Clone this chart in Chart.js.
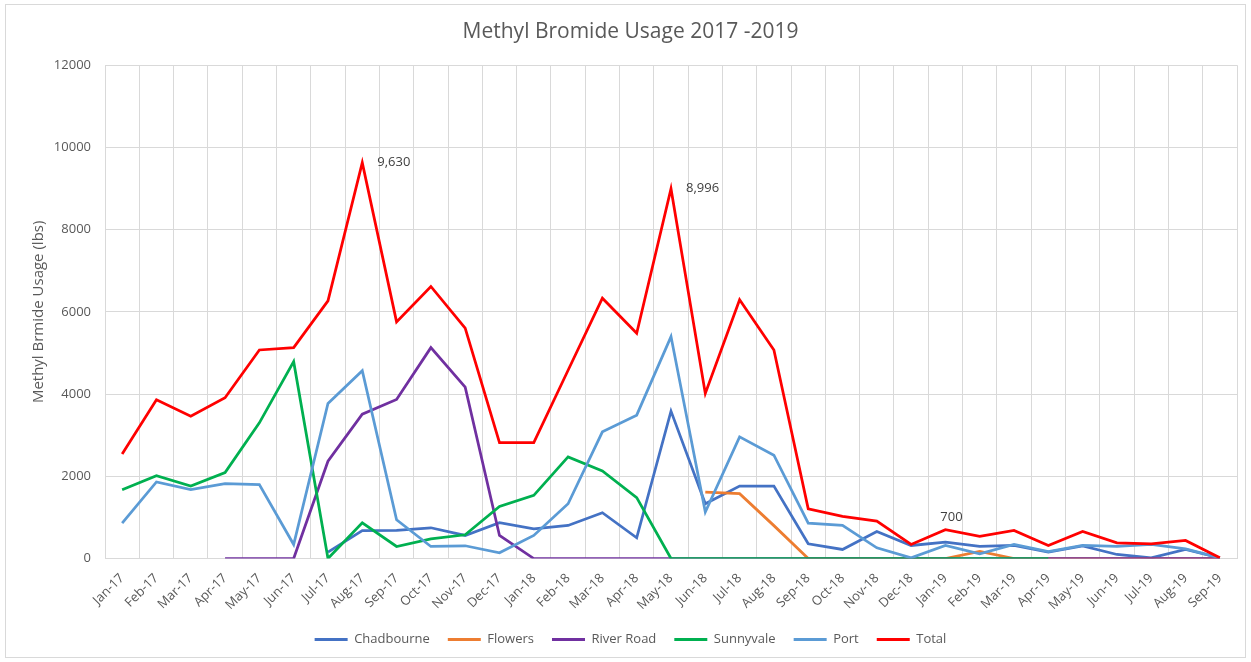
<!DOCTYPE html>
<html>
<head>
<meta charset="utf-8">
<script src="https://cdn.jsdelivr.net/npm/chart.js@4/dist/chart.umd.min.js"></script>
<style>
  html, body { margin: 0; padding: 0; background: #ffffff; }
  #wrap { position: relative; width: 1251px; height: 662px; }
</style>
</head>
<body>
<div id="wrap"><canvas id="c" width="1251" height="662"></canvas></div>
<script>
const categories = ['Jan-17','Feb-17','Mar-17','Apr-17','May-17','Jun-17','Jul-17','Aug-17','Sep-17','Oct-17','Nov-17','Dec-17',
  'Jan-18','Feb-18','Mar-18','Apr-18','May-18','Jun-18','Jul-18','Aug-18','Sep-18','Oct-18','Nov-18','Dec-18',
  'Jan-19','Feb-19','Mar-19','Apr-19','May-19','Jun-19','Jul-19','Aug-19','Sep-19'];

const chadbourne = [null,null,null,null,null,null,154,680,683,748,561,870,
  724,805,1114,504,3585,1333,1764,1764,358,220,659,317,
  398,293,317,154,305,98,16,220,16];
const flowers = [null,null,null,null,null,null,null,null,null,null,null,null,
  null,null,null,null,null,1618,1577,800,0,0,0,0,
  0,171,0,0,0,0,0,0,0];
const riverRoad = [null,null,null,0,0,0,2366,3510,3870,5130,4170,561,
  0,0,0,0,0,0,0,0,0,0,0,0,
  0,0,0,0,0,0,0,0,0];
const sunnyvale = [1675,2016,1764,2089,3301,4789,0,870,293,480,578,1268,
  1537,2472,2130,1480,0,0,0,0,0,0,0,0,
  0,0,0,0,null,null,null,null,null];
const port = [862,1862,1675,1821,1797,341,3772,4570,943,293,310,138,
  561,1333,3081,3488,5398,1130,2959,2512,862,805,260,16,
  317,114,341,171,317,293,341,236,16];
const total = [2540,3860,3463,3910,5073,5130,6268,9630,5756,6618,5602,2821,
  2821,4580,6333,5480,8996,4016,6293,5073,1211,1024,910,341,
  700,537,683,317,659,382,358,439,20];

const yTicks = [0,2000,4000,6000,8000,10000,12000];
const labelledTotals = [ {index: 7, place: 'right'}, {index: 16, place: 'right'}, {index: 24, place: 'above'} ];

const FONT = '"Open Sans", "Liberation Sans", sans-serif';
const TXT = '#595959';

const borderPlugin = {
  id: 'frame',
  beforeDraw(chart) {
    const ctx = chart.ctx;
    ctx.save();
    ctx.fillStyle = '#ffffff';
    ctx.fillRect(0, 0, chart.width, chart.height);
    ctx.strokeStyle = '#d9d9d9';
    ctx.lineWidth = 1;
    ctx.strokeRect(5.5, 4.5, chart.width - 11, chart.height - 9);
    ctx.restore();
  }
};

const dataLabelPlugin = {
  id: 'totLabels',
  afterDatasetsDraw(chart) {
    const dsIndex = chart.data.datasets.findIndex(d => d.label === 'Total');
    const meta = chart.getDatasetMeta(dsIndex);
    const ctx = chart.ctx;
    ctx.save();
    ctx.font = '13px ' + FONT;
    ctx.fillStyle = '#404040';
    labelledTotals.forEach(l => {
      const el = meta.data[l.index];
      const txt = total[l.index].toLocaleString('en-US');
      if (l.place === 'right') {
        ctx.textAlign = 'left';
        ctx.textBaseline = 'middle';
        ctx.fillText(txt, el.x + 15, el.y);
      } else {
        ctx.textAlign = 'center';
        ctx.textBaseline = 'bottom';
        ctx.fillText(txt, el.x + 6, el.y - 6);
      }
    });
    ctx.restore();
  }
};

function ds(label, data, color) {
  return { label, data, borderColor: color, backgroundColor: color, borderWidth: 2.75,
    pointRadius: 0, pointHoverRadius: 0, tension: 0, fill: false, spanGaps: false };
}

new Chart(document.getElementById('c'), {
  type: 'line',
  data: {
    labels: categories,
    datasets: [
      ds('Chadbourne', chadbourne, '#4472C4'),
      ds('Flowers', flowers, '#ED7D31'),
      ds('River Road', riverRoad, '#7030A0'),
      ds('Sunnyvale', sunnyvale, '#00B050'),
      ds('Port', port, '#5B9BD5'),
      ds('Total', total, '#FF0000')
    ].map((d, i, arr) => Object.assign(d, { order: arr.length - i }))
  },
  options: {
    responsive: false,
    animation: false,
    devicePixelRatio: 1,
    layout: { padding: { left: 24, right: 14, top: 0, bottom: 6 } },
    plugins: {
      title: {
        display: true,
        text: 'Methyl Bromide Usage 2017 -2019',
        color: TXT,
        font: { family: FONT, size: 21, weight: 'normal' },
        padding: { top: 19, bottom: 21 }
      },
      legend: {
        position: 'bottom',
        labels: {
          color: TXT,
          font: { family: FONT, size: 13 },
          boxWidth: 33,
          boxHeight: 3,
          padding: 18,
          generateLabels(chart) {
            return chart.data.datasets.map((d, i) => ({
              text: d.label, fillStyle: d.borderColor, strokeStyle: d.borderColor,
              lineWidth: 0, hidden: false, datasetIndex: i, fontColor: TXT
            }));
          }
        }
      },
      tooltip: { enabled: false }
    },
    scales: {
      x: {
        offset: true,
        grid: { offset: true, color: '#d9d9d9', lineWidth: 1, drawTicks: false },
        border: { color: '#d9d9d9' },
        afterFit(scale) { scale.height += -10; },
        ticks: { color: TXT, font: { family: FONT, size: 13 }, minRotation: 45, maxRotation: 45, autoSkip: false, padding: 12 }
      },
      y: {
        min: 0, max: 12000,
        afterBuildTicks(scale) { scale.ticks = yTicks.map(v => ({ value: v })); },
        afterFit(scale) { scale.width = 81; },
        grid: { color: '#d9d9d9', lineWidth: 1, drawTicks: false },
        border: { display: false },
        title: { display: true, text: 'Methyl Brmide Usage (lbs)', color: TXT, font: { family: FONT, size: 15 }, padding: { top: 6, bottom: 0 } },
        ticks: { color: TXT, font: { family: FONT, size: 13 }, padding: 14, callback: v => String(v) }
      }
    }
  },
  plugins: [borderPlugin, dataLabelPlugin]
});
</script>
</body>
</html>
